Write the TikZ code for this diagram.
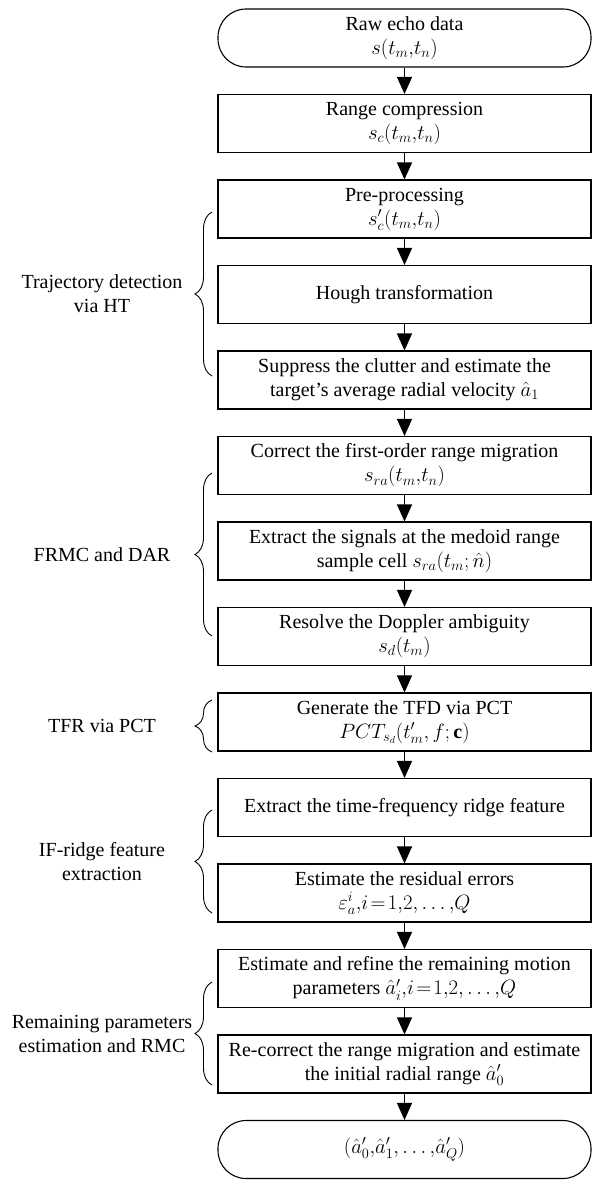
\documentclass[tikz,border=0pt]{standalone}
\usepackage{fontspec}
\setmainfont{Liberation Serif}
\usetikzlibrary{arrows.meta,decorations.pathreplacing}
\begin{document}
\begin{tikzpicture}[x=1pt,y=1pt,
  proc/.style={draw, line width=1.1pt, minimum width=373pt, minimum height=58pt,
    align=center, inner sep=2pt, font=\fontsize{20}{24}\selectfont},
  term/.style={proc, rounded corners=28pt},
  flow/.style={-{Triangle[length=17pt,width=15pt]}, line width=1.1pt},
  grp/.style={decorate, decoration={brace, amplitude=17pt}, line width=0.9pt},
  lbl/.style={align=center, font=\fontsize{20}{24}\selectfont}]
\useasboundingbox (0,0) rectangle (594,-1183);

\node[term] (n0)  at (404.5,-38)    {Raw echo data\\$s(t_m{,}t_n)$};
\node[proc] (n1)  at (404.5,-123.5) {Range compression\\$s_c(t_m{,}t_n)$};
\node[proc] (n2)  at (404.5,-209)   {Pre-processing\\$s'_c(t_m{,}t_n)$};
\node[proc] (n3)  at (404.5,-294.5) {Hough transformation};
\node[proc] (n4)  at (404.5,-380)   {Suppress the clutter and estimate the\\target's average radial velocity $\hat{a}_1$};
\node[proc] (n5)  at (404.5,-465.5) {Correct the first-order range migration\\$s_{ra}(t_m{,}t_n)$};
\node[proc] (n6)  at (404.5,-551)   {Extract the signals at the medoid range\\sample cell $s_{ra}(t_m;\hat{n})$};
\node[proc] (n7)  at (404.5,-636.5) {Resolve the Doppler ambiguity\\$s_d(t_m)$};
\node[proc] (n8)  at (404.5,-722)   {Generate the TFD via PCT\\$PCT_{s_d}(t'_m{,}\,f;\mathbf{c})$};
\node[proc] (n9)  at (404.5,-807.5) {Extract the time-frequency ridge feature};
\node[proc] (n10) at (404.5,-893)   {Estimate the residual errors\\$\varepsilon_a^i{,}i\!=\!1{,}2{,}\ldots{,}Q$};
\node[proc] (n11) at (404.5,-978.5) {Estimate and refine the remaining motion\\parameters $\hat{a}'_i{,}i\!=\!1{,}2{,}\ldots{,}Q$};
\node[proc] (n12) at (404.5,-1064)  {Re-correct the range migration and estimate\\the initial radial range $\hat{a}'_0$};
\node[term] (n13) at (404.5,-1149.5) {$(\hat{a}'_0{,}\hat{a}'_1{,}\ldots{,}\hat{a}'_Q)$};

\foreach \a/\b in {n0/n1,n1/n2,n2/n3,n3/n4,n4/n5,n5/n6,n6/n7,n7/n8,n8/n9,n9/n10,n10/n11,n11/n12,n12/n13}
  \draw[flow] (\a.south) -- (\b.north);

\coordinate (b1t) at (212,-212);  \coordinate (b1b) at (212,-376);
\coordinate (b2t) at (212,-473);  \coordinate (b2b) at (212,-636);
\coordinate (b3t) at (212,-700);  \coordinate (b3b) at (212,-752);
\coordinate (b4t) at (212,-810);  \coordinate (b4b) at (212,-913);
\coordinate (b5t) at (212,-982);  \coordinate (b5b) at (212,-1085);
\draw[grp] (b1b) -- (b1t);
\draw[grp] (b2b) -- (b2t);
\draw[grp] (b3b) -- (b3t);
\draw[grp] (b4b) -- (b4t);
\draw[grp] (b5b) -- (b5t);

\node[lbl] (l1) at (102,-294)  {Trajectory detection\\via HT};
\node[lbl] (l2) at (102,-554.5) {FRMC and DAR};
\node[lbl] (l3) at (102,-726)  {TFR via PCT};
\node[lbl] (l4) at (102,-861.5) {IF-ridge feature\\extraction};
\node[lbl] (l5) at (102,-1033.5) {Remaining parameters\\estimation and RMC};
\end{tikzpicture}
\end{document}
